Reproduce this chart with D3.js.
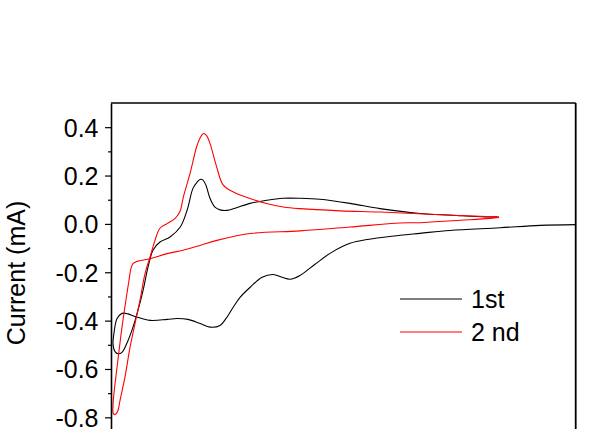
<!DOCTYPE html>
<html>
<head>
<meta charset="utf-8">
<script src="https://cdn.jsdelivr.net/npm/d3@7"></script>
<style>
  html, body { margin: 0; padding: 0; background: #fff; overflow: hidden; }
  text { font-family: Arial, "Liberation Sans", sans-serif; }
</style>
</head>
<body>
<div id="chart"></div>
<script>
// potential (V) and current (mA)
var cycle1_v = [3.000, 2.770, 2.511, 2.188, 1.995, 1.866, 1.543, 1.414, 1.317, 1.220, 1.156, 1.104, 1.046, 0.975,
  0.897, 0.833, 0.788, 0.743, 0.704, 0.639, 0.575, 0.497, 0.426, 0.362, 0.252, 0.155, 0.110, 0.071, 0.039, 0.019,
  0.013, 0.026, 0.045, 0.071, 0.110, 0.142, 0.174, 0.207, 0.239, 0.271, 0.316, 0.381, 0.446, 0.491, 0.529, 0.555,
  0.575, 0.594, 0.613, 0.639, 0.671, 0.704, 0.749, 0.801, 0.897, 1.007, 1.110, 1.220, 1.349, 1.543, 1.737, 1.995,
  2.201, 2.415, 2.492];
var cycle1_i = [-0.003, -0.006, -0.016, -0.027, -0.039, -0.047, -0.080, -0.122, -0.167, -0.213, -0.229, -0.221, -0.209, -0.221,
  -0.263, -0.304, -0.346, -0.391, -0.420, -0.427, -0.412, -0.395, -0.391, -0.395, -0.399, -0.383, -0.372, -0.370, -0.391, -0.453,
  -0.495, -0.528, -0.537, -0.531, -0.482, -0.427, -0.358, -0.275, -0.179, -0.109, -0.075, -0.054, -0.014, 0.056, 0.147, 0.172,
  0.184, 0.181, 0.160, 0.106, 0.069, 0.058, 0.056, 0.065, 0.085, 0.098, 0.106, 0.106, 0.102, 0.085, 0.063, 0.043,
  0.036, 0.029, 0.029];

var cycle2_v = [2.505, 2.447, 2.253, 1.995, 1.866, 1.543, 1.220, 0.897, 0.684, 0.575, 0.465, 0.362, 0.252, 0.168,
  0.142, 0.129, 0.116, 0.103, 0.071, 0.039, 0.019, 0.013, 0.016, 0.032, 0.045, 0.058, 0.090, 0.123, 0.155, 0.187,
  0.220, 0.252, 0.284, 0.316, 0.362, 0.413, 0.446, 0.467, 0.510, 0.553, 0.575, 0.596, 0.617, 0.639, 0.682, 0.725,
  0.790, 0.897, 1.005, 1.112, 1.220, 1.478, 1.737, 2.059, 2.427, 2.505];
var cycle2_i = [0.027, 0.023, 0.015, 0.005, 0.004, -0.013, -0.029, -0.040, -0.068, -0.089, -0.109, -0.123, -0.144, -0.155,
  -0.164, -0.184, -0.234, -0.287, -0.427, -0.593, -0.702, -0.751, -0.786, -0.786, -0.772, -0.731, -0.634, -0.510, -0.412, -0.316,
  -0.205, -0.137, -0.068, -0.018, 0.001, 0.022, 0.052, 0.111, 0.208, 0.319, 0.355, 0.374, 0.365, 0.333, 0.236, 0.160,
  0.132, 0.105, 0.084, 0.070, 0.063, 0.054, 0.049, 0.040, 0.030, 0.029];

var seriesNames = ["1st", "2 nd"];
var seriesColors = ["#000000", "#ff0000"];
var yMajorTicks = [0.4, 0.2, 0.0, -0.2, -0.4, -0.6, -0.8];
var yMinorTicks = [0.3, 0.1, -0.1, -0.3, -0.5, -0.7];
var yLabel = "Current (mA)";

var width = 600, height = 429;
var plot = {left: 111, right: 575.7, top: 103};

var svg = d3.select("#chart").append("svg")
    .attr("width", width)
    .attr("height", height);

svg.append("rect").attr("width", width).attr("height", height).attr("fill", "#fff");

// x axis is not shown in the crop, potential window 0 - 3 V
var x = d3.scaleLinear().domain([0, 3]).range([plot.left, plot.right]);
var y = d3.scaleLinear().domain([-1.0, 0.5]).range([465.7, plot.top]);

var line = d3.line()
    .x(function(d) { return x(d[0]); })
    .y(function(d) { return y(d[1]); })
    .curve(d3.curveCatmullRom.alpha(0.5));

var series = [
  d3.zip(cycle1_v, cycle1_i),
  d3.zip(cycle2_v, cycle2_i)
];

// curves
svg.append("g")
  .selectAll("path")
  .data(series)
  .enter().append("path")
    .attr("d", line)
    .attr("fill", "none")
    .attr("stroke", function(d, i) { return seriesColors[i]; })
    .attr("stroke-width", 1.1);

// frame: top and right
svg.append("line")
    .attr("x1", plot.left).attr("x2", plot.right)
    .attr("y1", plot.top).attr("y2", plot.top)
    .attr("stroke", "#000").attr("stroke-width", 1.6);
svg.append("line")
    .attr("x1", plot.right).attr("x2", plot.right)
    .attr("y1", plot.top).attr("y2", height + 10)
    .attr("stroke", "#000").attr("stroke-width", 1.8);

// left axis, major + minor ticks
var yAxis = d3.axisLeft(y)
    .tickValues(yMajorTicks)
    .tickFormat(function(d) { return d.toFixed(1); })
    .tickSize(6)
    .tickSizeOuter(0)
    .tickPadding(6.5);

var gy = svg.append("g")
    .attr("transform", "translate(" + plot.left + ",0)")
    .call(yAxis);
gy.select(".domain").attr("stroke-width", 1.6);
gy.selectAll(".tick line").attr("stroke-width", 1.2);
gy.selectAll(".tick text")
    .attr("font-size", 25)
    .attr("font-family", "Arial, 'Liberation Sans', sans-serif")
    .attr("fill", "#000")
    .attr("dy", "0.36em");

var gyMinor = svg.append("g")
    .attr("transform", "translate(" + plot.left + ",0)")
    .call(d3.axisLeft(y).tickValues(yMinorTicks).tickFormat("").tickSize(3).tickSizeOuter(0));
gyMinor.select(".domain").remove();
gyMinor.selectAll(".tick line").attr("stroke-width", 1.2);

// y label
svg.append("text")
    .attr("transform", "translate(25,273) rotate(-90)")
    .attr("text-anchor", "middle")
    .attr("font-size", 25)
    .attr("fill", "#000")
    .text(yLabel);

// legend
var legend = svg.append("g")
  .selectAll("g")
  .data(seriesNames)
  .enter().append("g")
    .attr("transform", function(d, i) { return "translate(400," + (299 + i * 33) + ")"; });

legend.append("line")
    .attr("x1", 0).attr("x2", 62)
    .attr("stroke", function(d, i) { return seriesColors[i]; })
    .attr("stroke-width", 1.1);

legend.append("text")
    .attr("x", 71)
    .attr("y", 9)
    .attr("font-size", 25)
    .attr("fill", "#000")
    .text(function(d) { return d; });
</script>
</body>
</html>
